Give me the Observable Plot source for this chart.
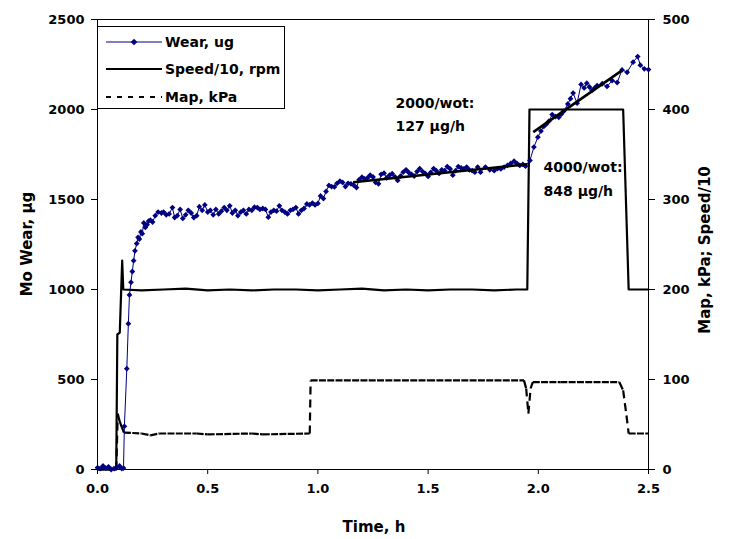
<!DOCTYPE html>
<html><head><meta charset="utf-8">
<script src="https://cdn.jsdelivr.net/npm/d3@7"></script>
<script src="https://cdn.jsdelivr.net/npm/@observablehq/plot@0.6"></script>
<style>
body{margin:0;background:#fff;}
#chart{width:730px;height:539px;}
</style></head><body><div id="chart"></div>
<script>
// ---- data ----
const wearTime = [0.000,0.012,0.025,0.037,0.050,0.062,0.075,0.087,0.100,0.110,0.118,0.122,0.133,0.140,0.145,0.152,0.158,0.164,0.170,0.178,0.184,0.190,0.197,0.203,0.210,0.217,0.225,0.232,0.240,0.250,0.262,0.275,0.290,0.300,0.312,0.325,0.340,0.350,0.362,0.375,0.387,0.400,0.412,0.425,0.437,0.450,0.462,0.475,0.487,0.500,0.512,0.525,0.537,0.550,0.562,0.575,0.587,0.600,0.612,0.625,0.637,0.650,0.662,0.675,0.687,0.700,0.712,0.725,0.737,0.750,0.762,0.775,0.787,0.800,0.812,0.825,0.837,0.850,0.862,0.875,0.887,0.900,0.912,0.925,0.937,0.950,0.962,0.975,0.987,1.000,1.012,1.025,1.037,1.050,1.062,1.075,1.087,1.100,1.112,1.125,1.137,1.150,1.162,1.175,1.187,1.200,1.212,1.225,1.237,1.250,1.262,1.275,1.287,1.300,1.312,1.325,1.337,1.350,1.362,1.375,1.387,1.400,1.412,1.425,1.437,1.450,1.462,1.475,1.487,1.500,1.512,1.525,1.537,1.550,1.562,1.575,1.587,1.600,1.612,1.625,1.637,1.650,1.662,1.675,1.687,1.700,1.712,1.725,1.738,1.760,1.780,1.800,1.815,1.830,1.845,1.860,1.875,1.890,1.903,1.916,1.930,1.942,1.962,1.980,1.998,2.012,2.025,2.037,2.048,2.063,2.078,2.093,2.105,2.116,2.134,2.146,2.158,2.176,2.194,2.208,2.220,2.232,2.244,2.256,2.267,2.290,2.312,2.335,2.358,2.380,2.403,2.430,2.451,2.463,2.481,2.500];
const wearUg = [10,5,20,8,15,0,5,10,20,5,8,240,560,810,970,1040,1100,1160,1215,1255,1290,1280,1320,1310,1370,1345,1360,1380,1385,1375,1410,1430,1425,1430,1415,1420,1455,1400,1410,1445,1395,1415,1440,1425,1400,1410,1460,1440,1470,1430,1440,1415,1445,1420,1435,1455,1440,1465,1425,1440,1410,1430,1440,1420,1445,1440,1457,1455,1445,1450,1445,1402,1430,1440,1435,1465,1440,1430,1420,1440,1445,1455,1420,1440,1450,1475,1470,1480,1470,1478,1520,1505,1545,1578,1572,1570,1590,1602,1595,1572,1590,1587,1580,1566,1610,1624,1615,1620,1635,1625,1595,1587,1640,1646,1620,1635,1643,1625,1606,1630,1652,1665,1650,1640,1630,1655,1672,1655,1645,1628,1650,1672,1660,1645,1665,1660,1683,1670,1635,1660,1683,1675,1670,1680,1665,1660,1652,1680,1652,1680,1665,1660,1672,1670,1680,1689,1700,1713,1700,1689,1695,1685,1717,1791,1846,1880,1906,1920,1935,1972,1960,1957,1975,1991,2031,2060,2091,2035,2139,2120,2146,2125,2106,2120,2133,2143,2128,2161,2150,2220,2207,2263,2294,2246,2226,2222];

const speedTime = [0,0.085,0.090,0.101,0.112,0.117,0.20,0.30,0.40,0.50,0.60,0.70,0.80,0.90,1.00,1.10,1.20,1.30,1.40,1.50,1.60,1.70,1.80,1.90,1.950,1.960,2.385,2.410,2.500];
const speedDiv10 = [0,0,150,152,232,200,199,200,201,199,200,199,200,200,199,200,201,199,200,199,200,200,199,200,200,400,400,200,200];

const mapTime = [0,0.085,0.092,0.100,0.110,0.120,0.200,0.240,0.280,0.450,0.500,0.700,0.750,0.963,0.967,1.500,1.935,1.945,1.955,1.965,1.975,2.100,2.368,2.385,2.400,2.410,2.500];
const mapKPa = [0,0,62,54,47,41,40,38,40,40,39,40,39,40,99,99,99,90,62,90,97,97,97,88,60,40,40];

const fitTime = [[1.16,1.95],[1.977,2.38]];
const fitUg = [[1596,1696],[1874,2217]];

const noteTime = [1.352,1.352,2.024,2.024];
const noteUg = [2036,1908,1675,1547];
const noteText = ["2000/wot:","127 \u03bcg/h","4000/wot:","848 \u03bcg/h"];

const xTicks = [0,0.5,1,1.5,2,2.5];
const leftTicks = [0,500,1000,1500,2000,2500];
const rightTicks = [0,100,200,300,400,500];
const seriesNames = ["Wear, ug","Speed/10, rpm","Map, kPa"];

// ---- build ----
const RATIO = 5; // right axis 0-500 mapped onto left 0-2500
const wear = wearTime.map((t,i)=>({t, v:wearUg[i]}));
const speed = speedTime.map((t,i)=>({t, v:speedDiv10[i]*RATIO}));
const mapSegs = mapTime.slice(1).map((t,i)=>({x1:mapTime[i], y1:mapKPa[i]*RATIO, x2:t, y2:mapKPa[i+1]*RATIO, steep:Math.abs(mapKPa[i+1]-mapKPa[i])>5}));
const fits = fitTime.map((ts,i)=>({x1:ts[0], y1:fitUg[i][0], x2:ts[1], y2:fitUg[i][1]}));
const notes = noteTime.map((t,i)=>({t, v:noteUg[i], label:noteText[i]}));
const NAVY = "#000080";
const FONT = "DejaVu Sans";

const svgEl = Plot.plot({
  width:730, height:539,
  marginLeft:97, marginRight:82, marginTop:19, marginBottom:70,
  x:{domain:[0,2.5]},
  y:{domain:[0,2500]},
  style:{fontFamily:FONT, fontWeight:"bold", fontSize:"13px", color:"#000", background:"#fff"},
  marks:[
    Plot.frame({stroke:"#000", strokeWidth:1}),
    Plot.axisX({ticks:xTicks, tickFormat:d3.format(".1f"), tickSize:5, tickPadding:9, label:null, stroke:"#000", strokeOpacity:1}),
    Plot.axisY({ticks:leftTicks, tickFormat:d3.format("d"), anchor:"left", tickSize:6, tickPadding:7, label:null, strokeOpacity:1}),
    Plot.axisY({ticks:rightTicks.map(v=>v*RATIO), tickFormat:d=>String(d/RATIO), anchor:"right", tickSize:6, tickPadding:8, label:null, strokeOpacity:1}),
    Plot.link(mapSegs.filter(d=>!d.steep), {x1:"x1", y1:"y1", x2:"x2", y2:"y2", stroke:"#000", strokeWidth:2.2, strokeDasharray:"7,1.3"}),
    Plot.link(mapSegs.filter(d=>d.steep), {x1:"x1", y1:"y1", x2:"x2", y2:"y2", stroke:"#000", strokeWidth:2.2, strokeDasharray:"8,5"}),
    Plot.line(speed, {x:"t", y:"v", stroke:"#000", strokeWidth:2.2, curve:"linear"}),
    Plot.line(wear, {x:"t", y:"v", stroke:NAVY, strokeWidth:1}),
    Plot.dot(wear, {x:"t", y:"v", symbol:"diamond2", r:2.6, fill:NAVY, stroke:"none"}),
    Plot.link(fits, {x1:"x1", y1:"y1", x2:"x2", y2:"y2", stroke:"#000", strokeWidth:2.6}),
    Plot.text(notes, {x:"t", y:"v", text:"label", textAnchor:"start", lineAnchor:"middle", fontSize:14, fontWeight:"bold", fill:"#000"})
  ]
});
document.getElementById("chart").appendChild(svgEl);

// ---- titles & legend ----
const svg = d3.select(svgEl);
const g = svg.append("g").attr("font-family", FONT).attr("font-weight","bold").attr("fill","#000");
g.append("text").attr("x", 374).attr("y", 527).attr("text-anchor","middle").attr("dominant-baseline","central").attr("font-size",15).text("Time, h");
g.append("text").attr("transform","translate(27,244) rotate(-90)").attr("text-anchor","middle").attr("dominant-baseline","central").attr("font-size",15).text("Mo Wear, \u00b5g");
g.append("text").attr("transform","translate(705,250) rotate(-90)").attr("text-anchor","middle").attr("dominant-baseline","central").attr("font-size",15).text("Map, kPa; Speed/10");

const lg = svg.append("g");
lg.append("rect").attr("x",97.5).attr("y",26.5).attr("width",187).attr("height",82).attr("fill","#fff").attr("stroke","#000").attr("stroke-width",1);
const rowsY = [42,69,97];
// Wear
lg.append("line").attr("x1",106).attr("x2",162).attr("y1",rowsY[0]).attr("y2",rowsY[0]).attr("stroke",NAVY).attr("stroke-width",1);
lg.append("path").attr("d", d3.symbol(d3.symbolDiamond2, 27)()).attr("transform",`translate(134,${rowsY[0]})`).attr("fill",NAVY);
// Speed
lg.append("line").attr("x1",106).attr("x2",162).attr("y1",rowsY[1]).attr("y2",rowsY[1]).attr("stroke","#000").attr("stroke-width",2.2);
// Map
lg.append("line").attr("x1",106).attr("x2",162).attr("y1",rowsY[2]).attr("y2",rowsY[2]).attr("stroke","#000").attr("stroke-width",2.2).attr("stroke-dasharray","5,6");
seriesNames.forEach((n,i)=>{
  lg.append("text").attr("x",165).attr("y",rowsY[i]).attr("text-anchor","start").attr("dominant-baseline","central").attr("font-family",FONT).attr("font-weight","bold").attr("font-size",14).attr("fill","#000").text(n);
});
</script>
</body></html>
